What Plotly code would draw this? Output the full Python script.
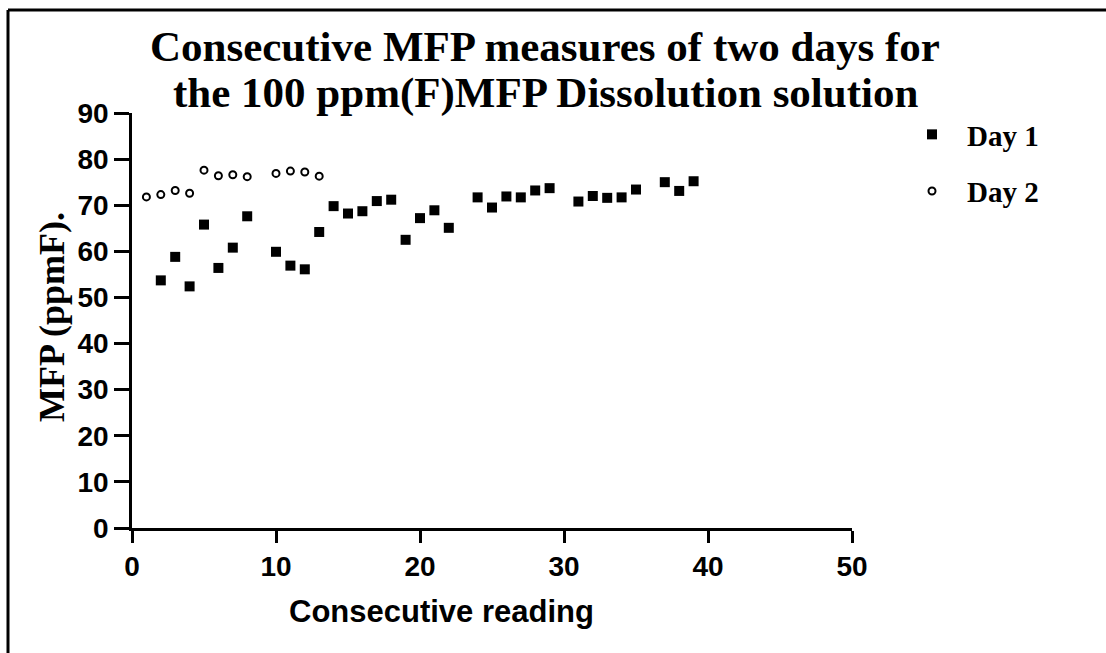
import plotly.graph_objects as go

# ---- data ----
day1_x = [2, 3, 4, 5, 6, 7, 8, 10, 11, 12, 13, 14, 15, 16, 17, 18, 19, 20, 21, 22,
          24, 25, 26, 27, 28, 29, 31, 32, 33, 34, 35, 37, 38, 39]
day1_y = [53.7, 58.8, 52.4, 65.8, 56.4, 60.8, 67.6, 59.9, 56.9, 56.1, 64.2, 69.8,
          68.2, 68.7, 70.9, 71.2, 62.5, 67.2, 68.9, 65.1, 71.7, 69.5, 71.9, 71.7,
          73.2, 73.7, 70.8, 72.0, 71.6, 71.7, 73.4, 75.0, 73.1, 75.2]
day2_x = [1, 2, 3, 4, 5, 6, 7, 8, 10, 11, 12, 13]
day2_y = [71.8, 72.3, 73.2, 72.6, 77.6, 76.4, 76.6, 76.2, 76.9, 77.4, 77.2, 76.3]

series_names = ["Day 1", "Day 2"]
title_lines = ["Consecutive MFP measures of two days for",
               "the 100 ppm(F)MFP Dissolution solution"]
x_title = "Consecutive reading"
y_title = "MFP (ppmF)."
x_ticks = [0, 10, 20, 30, 40, 50]
y_ticks = [0, 10, 20, 30, 40, 50, 60, 70, 80, 90]

SERIF = "Liberation Serif, Times New Roman, serif"
SANS = "Liberation Sans, Arial, sans-serif"

fig = go.Figure()
fig.add_trace(go.Scatter(
    x=day1_x, y=day1_y, mode="markers", name=series_names[0], legendgroup="a",
    marker=dict(symbol="square", size=10, color="black"), cliponaxis=False))
fig.add_trace(go.Scatter(
    x=day2_x, y=day2_y, mode="markers", name=series_names[1], legendgroup="b",
    marker=dict(symbol="circle-open", size=7, color="black", line=dict(width=2, color="black")),
    cliponaxis=False))

L, R, T, B = 132, 254, 113, 125
W, H = 1106, 653
pw, ph = W - L - R, H - T - B

def px(xp):
    return (xp - L) / pw

def py(yp):
    return (H - B - yp) / ph

annotations = [
    dict(text="<b>" + title_lines[0] + "</b>", x=px(545), y=py(47), xref="paper", yref="paper",
         showarrow=False, xanchor="center", yanchor="middle",
         font=dict(family=SERIF, size=43, color="black")),
    dict(text="<b>" + title_lines[1] + "</b>", x=px(545), y=py(93), xref="paper", yref="paper",
         showarrow=False, xanchor="center", yanchor="middle",
         font=dict(family=SERIF, size=43, color="black")),
    dict(text="<b>" + x_title + "</b>", x=px(441), y=py(611), xref="paper", yref="paper",
         showarrow=False, xanchor="center", yanchor="middle",
         font=dict(family=SANS, size=31, color="black")),
    dict(text="<b>" + y_title + "</b>", x=px(52), y=py(317), xref="paper", yref="paper",
         showarrow=False, xanchor="center", yanchor="middle", textangle=-90,
         font=dict(family=SERIF, size=36, color="black")),
]

shapes = [
    dict(type="line", xref="paper", yref="paper", x0=px(8), x1=px(1106), y0=py(10), y1=py(10),
         line=dict(color="black", width=3)),
    dict(type="line", xref="paper", yref="paper", x0=px(8), x1=px(8), y0=py(10), y1=py(653),
         line=dict(color="black", width=3)),
]

fig.update_layout(
    width=W, height=H,
    margin=dict(l=L, r=R, t=T, b=B, pad=0),
    paper_bgcolor="white", plot_bgcolor="white",
    showlegend=True,
    legend=dict(x=px(897), y=py(109), xanchor="left", yanchor="top",
                itemwidth=60,
                font=dict(family=SERIF, size=29, color="black", weight="bold"),
                tracegroupgap=16, bgcolor="rgba(0,0,0,0)"),
    annotations=annotations,
    shapes=shapes,
)
fig.update_xaxes(range=[0, 50], tickvals=x_ticks, showgrid=False, zeroline=False,
                 showline=True, linecolor="black", linewidth=2.5,
                 ticks="outside", ticklen=12, tickwidth=2.5, tickcolor="black",
                 tickfont=dict(family=SANS, size=28, color="black", weight="bold"))
fig.update_yaxes(range=[0, 90], tickvals=y_ticks, showgrid=False, zeroline=False,
                 showline=True, linecolor="black", linewidth=2.5,
                 ticks="outside", ticklen=15, tickwidth=2.5, tickcolor="black",
                 tickfont=dict(family=SANS, size=28, color="black", weight="bold"))

fig.write_html("out.html")
